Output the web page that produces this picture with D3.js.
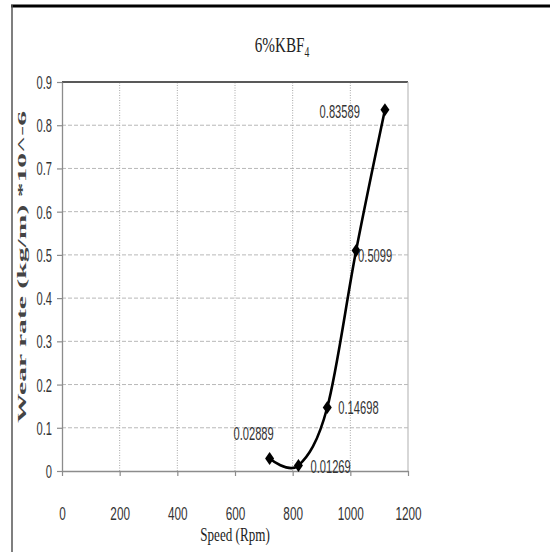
<!DOCTYPE html>
<html>
<head>
<meta charset="utf-8">
<script src="https://cdn.jsdelivr.net/npm/d3@7"></script>
<style>
  html, body { margin: 0; padding: 0; background: #fff; }
  svg { display: block; }
</style>
</head>
<body>
<svg id="chart" width="550" height="552"></svg>
<script>
// Wear rate versus sliding speed, 6% KBF4 composite
const speeds = [720, 820, 920, 1020, 1120];
const wearRates = [0.02889, 0.01269, 0.14698, 0.5099, 0.83589];
const xTicks = [0, 200, 400, 600, 800, 1000, 1200];
const yTicks = [0, 0.1, 0.2, 0.3, 0.4, 0.5, 0.6, 0.7, 0.8, 0.9];

// label placement relative to each marker: [dx, dy, anchor]
const labelPlacement = [
  [-16, -19, "middle"],
  [12, 7, "start"],
  [11, 7, "start"],
  [2, 11, "start"],
  [-25, 8, "end"]
];

const svg = d3.select("#chart");
const margin = { left: 62, right: 142, top: 82, bottom: 81 };
const W = 550, H = 552;
const x = d3.scaleLinear().domain([0, 1200]).range([margin.left, W - margin.right]);
const y = d3.scaleLinear().domain([0, 0.9]).range([H - margin.bottom, margin.top]);

const SQ = 0.62; // horizontal squeeze for the narrow label face
const SQT = 0.69; // horizontal squeeze for the serif titles

// outer frame: heavy top rule and thin left rule
svg.append("line").attr("x1", 11).attr("x2", 550).attr("y1", 6).attr("y2", 6)
  .attr("stroke", "#000").attr("stroke-width", 3);
svg.append("line").attr("x1", 12).attr("x2", 12).attr("y1", 5).attr("y2", 552)
  .attr("stroke", "#555").attr("stroke-width", 1.5);

// gridlines
svg.append("g").selectAll("line").data(yTicks.slice(1)).join("line")
  .attr("x1", x(0)).attr("x2", x(1200))
  .attr("y1", d => y(d)).attr("y2", d => y(d))
  .attr("stroke", "#b8b8b8").attr("stroke-width", 1)
  .attr("stroke-dasharray", "4,2");
svg.append("g").selectAll("line").data(xTicks.slice(1, -1)).join("line")
  .attr("x1", d => x(d)).attr("x2", d => x(d))
  .attr("y1", y(0)).attr("y2", y(0.9))
  .attr("stroke", "#a8a8a8").attr("stroke-width", 1)
  .attr("stroke-dasharray", "1,1.5");

// plot frame: dark top edge, light right edge
svg.append("line").attr("x1", x(0)).attr("x2", x(1200)).attr("y1", y(0.9)).attr("y2", y(0.9))
  .attr("stroke", "#595959").attr("stroke-width", 2);
svg.append("line").attr("x1", x(1200)).attr("x2", x(1200)).attr("y1", y(0.9)).attr("y2", y(0))
  .attr("stroke", "#bdbdbd").attr("stroke-width", 1.2);

// axes
const yAxis = svg.append("g").attr("transform", `translate(${x(0)},0)`)
  .call(d3.axisLeft(y).tickValues(yTicks).tickSize(5).tickSizeOuter(0)
    .tickFormat(d => d === 0 ? "0" : d3.format(".1f")(d)));
const xAxis = svg.append("g").attr("transform", `translate(0,${y(0)})`)
  .call(d3.axisBottom(x).tickValues(xTicks).tickSize(5).tickSizeOuter(0)
    .tickFormat(d3.format("d")));

[yAxis, xAxis].forEach(g => {
  g.select(".domain").attr("stroke", "#8c8c8c").attr("stroke-width", 1.3);
  g.selectAll(".tick line").attr("stroke", "#8c8c8c").attr("stroke-width", 1.2);
});

yAxis.selectAll(".tick text")
  .attr("x", null).attr("dy", null)
  .attr("transform", `translate(-10,6.5) scale(${SQ},1)`)
  .attr("text-anchor", "end")
  .style("font-family", "'Liberation Sans', Arial, sans-serif")
  .style("font-size", "18px").attr("fill", "#333");

xAxis.selectAll(".tick text")
  .attr("y", null).attr("dy", null)
  .attr("transform", `translate(0,49) scale(${SQ},1)`)
  .attr("text-anchor", "middle")
  .style("font-family", "'Liberation Sans', Arial, sans-serif")
  .style("font-size", "19px").attr("fill", "#333");

// smoothed series line
const line = d3.line()
  .x((d, i) => x(speeds[i]))
  .y(d => y(d))
  .curve(d3.curveCatmullRom.alpha(0));
svg.append("path").datum(wearRates)
  .attr("d", line)
  .attr("fill", "none").attr("stroke", "#000").attr("stroke-width", 2.6);

// diamond markers
svg.append("g").selectAll("path").data(wearRates).join("path")
  .attr("d", "M0,-6.5L4.5,0L0,6.5L-4.5,0Z")
  .attr("transform", (d, i) => `translate(${x(speeds[i])},${y(d)})`)
  .attr("fill", "#000");

// value labels
svg.append("g").selectAll("text").data(wearRates).join("text")
  .attr("transform", (d, i) => {
    const p = labelPlacement[i];
    return `translate(${x(speeds[i]) + p[0]},${y(d) + p[1]}) scale(${SQ},1)`;
  })
  .attr("text-anchor", (d, i) => labelPlacement[i][2])
  .style("font-family", "'Liberation Sans', Arial, sans-serif")
  .style("font-size", "18px").attr("fill", "#333")
  .text(d => String(d));

// chart title
const title = svg.append("text")
  .attr("transform", `translate(282,52) scale(${SQT},1)`)
  .attr("text-anchor", "middle")
  .style("font-family", "'Liberation Serif', 'Times New Roman', serif")
  .style("font-size", "22px").attr("fill", "#222");
title.append("tspan").text("6%KBF");
title.append("tspan").attr("dy", 5).style("font-size", "14px").text("4");

// x axis title
svg.append("text")
  .attr("transform", `translate(235,541) scale(${SQT},1)`)
  .attr("text-anchor", "middle")
  .style("font-family", "'Liberation Serif', 'Times New Roman', serif")
  .style("font-size", "19px").attr("fill", "#222")
  .text("Speed (Rpm)");

// y axis title
svg.append("text")
  .attr("transform", `translate(26,267) scale(${SQT},1) rotate(-90)`)
  .attr("text-anchor", "middle")
  .attr("textLength", 312).attr("lengthAdjust", "spacingAndGlyphs")
  .style("font-family", "'Liberation Serif', 'Times New Roman', serif")
  .style("font-size", "18px").style("font-weight", "bold").attr("fill", "#444")
  .text("Wear rate (kg/m) *10^-6");
</script>
</body>
</html>
